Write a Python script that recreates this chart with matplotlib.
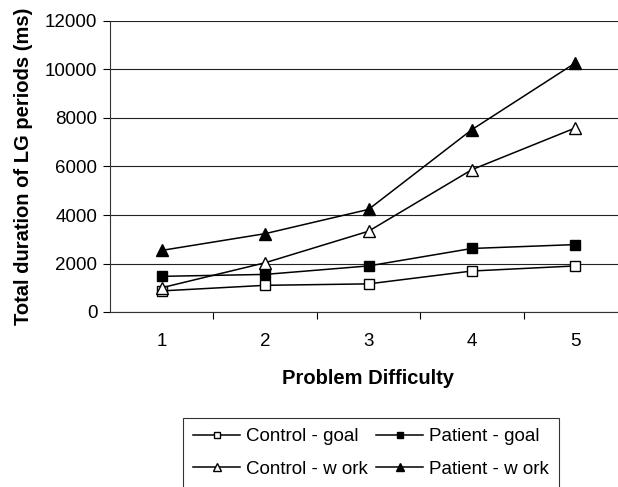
import matplotlib
matplotlib.use("Agg")
import matplotlib.pyplot as plt

plt.rcParams['font.family'] = ['Liberation Sans', 'DejaVu Sans']

# values
difficulty = [1, 2, 3, 4, 5]
control_goal = [870, 1100, 1160, 1690, 1900]
patient_goal = [1470, 1550, 1900, 2620, 2780]
control_work = [1000, 2030, 3330, 5870, 7590]
patient_work = [2540, 3230, 4230, 7520, 10270]
y_ticks = [0, 2000, 4000, 6000, 8000, 10000, 12000]

fig = plt.figure(figsize=(6.18, 4.87), dpi=100)
ax = fig.add_axes([110 / 618, 175 / 487, 517 / 618, 291 / 487])

l_cg, = ax.plot(difficulty, control_goal, color='black', lw=1.1, marker='s', ms=7,
                mfc='white', mec='black', mew=1.0, label='Control - goal')
l_pg, = ax.plot(difficulty, patient_goal, color='black', lw=1.1, marker='s', ms=7,
                mfc='black', mec='black', label='Patient - goal')
l_cw, = ax.plot(difficulty, control_work, color='black', lw=1.1, marker='^', ms=8.5,
                mfc='white', mec='black', mew=1.0, label='Control - w ork')
l_pw, = ax.plot(difficulty, patient_work, color='black', lw=1.1, marker='^', ms=8.5,
                mfc='black', mec='black', label='Patient - w ork')

ax.set_xlim(0.5, 5.5)
ax.set_ylim(0, 12000)
ax.set_yticks(y_ticks)
ax.set_xticks(difficulty)
ax.set_xticks([1.5, 2.5, 3.5, 4.5, 5.5], minor=True)
ax.tick_params(axis='x', which='major', length=0, pad=15, labelsize=13.5)
ax.tick_params(axis='x', which='minor', length=5, width=0.8, direction='out')
ax.tick_params(axis='y', length=5, width=0.8, direction='out', labelsize=13.5, pad=4)

ax.yaxis.grid(True, color='#222222', lw=0.8)
ax.set_axisbelow(True)
for side in ['top', 'right']:
    ax.spines[side].set_visible(False)
for side in ['left', 'bottom']:
    ax.spines[side].set_linewidth(0.8)
    ax.spines[side].set_color('#333333')

ax.set_xlabel('Problem Difficulty', fontsize=14.5, fontweight='bold', labelpad=14)
ax.set_ylabel('Total duration of LG periods (ms)', fontsize=14.5, fontweight='bold', labelpad=9)

# row-wise order: control/patient goal on top, control/patient work below
leg = fig.legend([l_cg, l_cw, l_pg, l_pw],
                 ['Control - goal', 'Control - w ork', 'Patient - goal', 'Patient - w ork'],
                 loc='upper left', bbox_to_anchor=(183 / 618, 1 - 418 / 487),
                 borderaxespad=0, ncol=2, fontsize=13.5, frameon=True, fancybox=False,
                 edgecolor='black', handlelength=2.5, handletextpad=0.3,
                 columnspacing=0.45, labelspacing=0.8, markerscale=0.6,
                 borderpad=0.55)
leg.get_frame().set_linewidth(0.8)

fig.savefig('out.png', dpi=100)
